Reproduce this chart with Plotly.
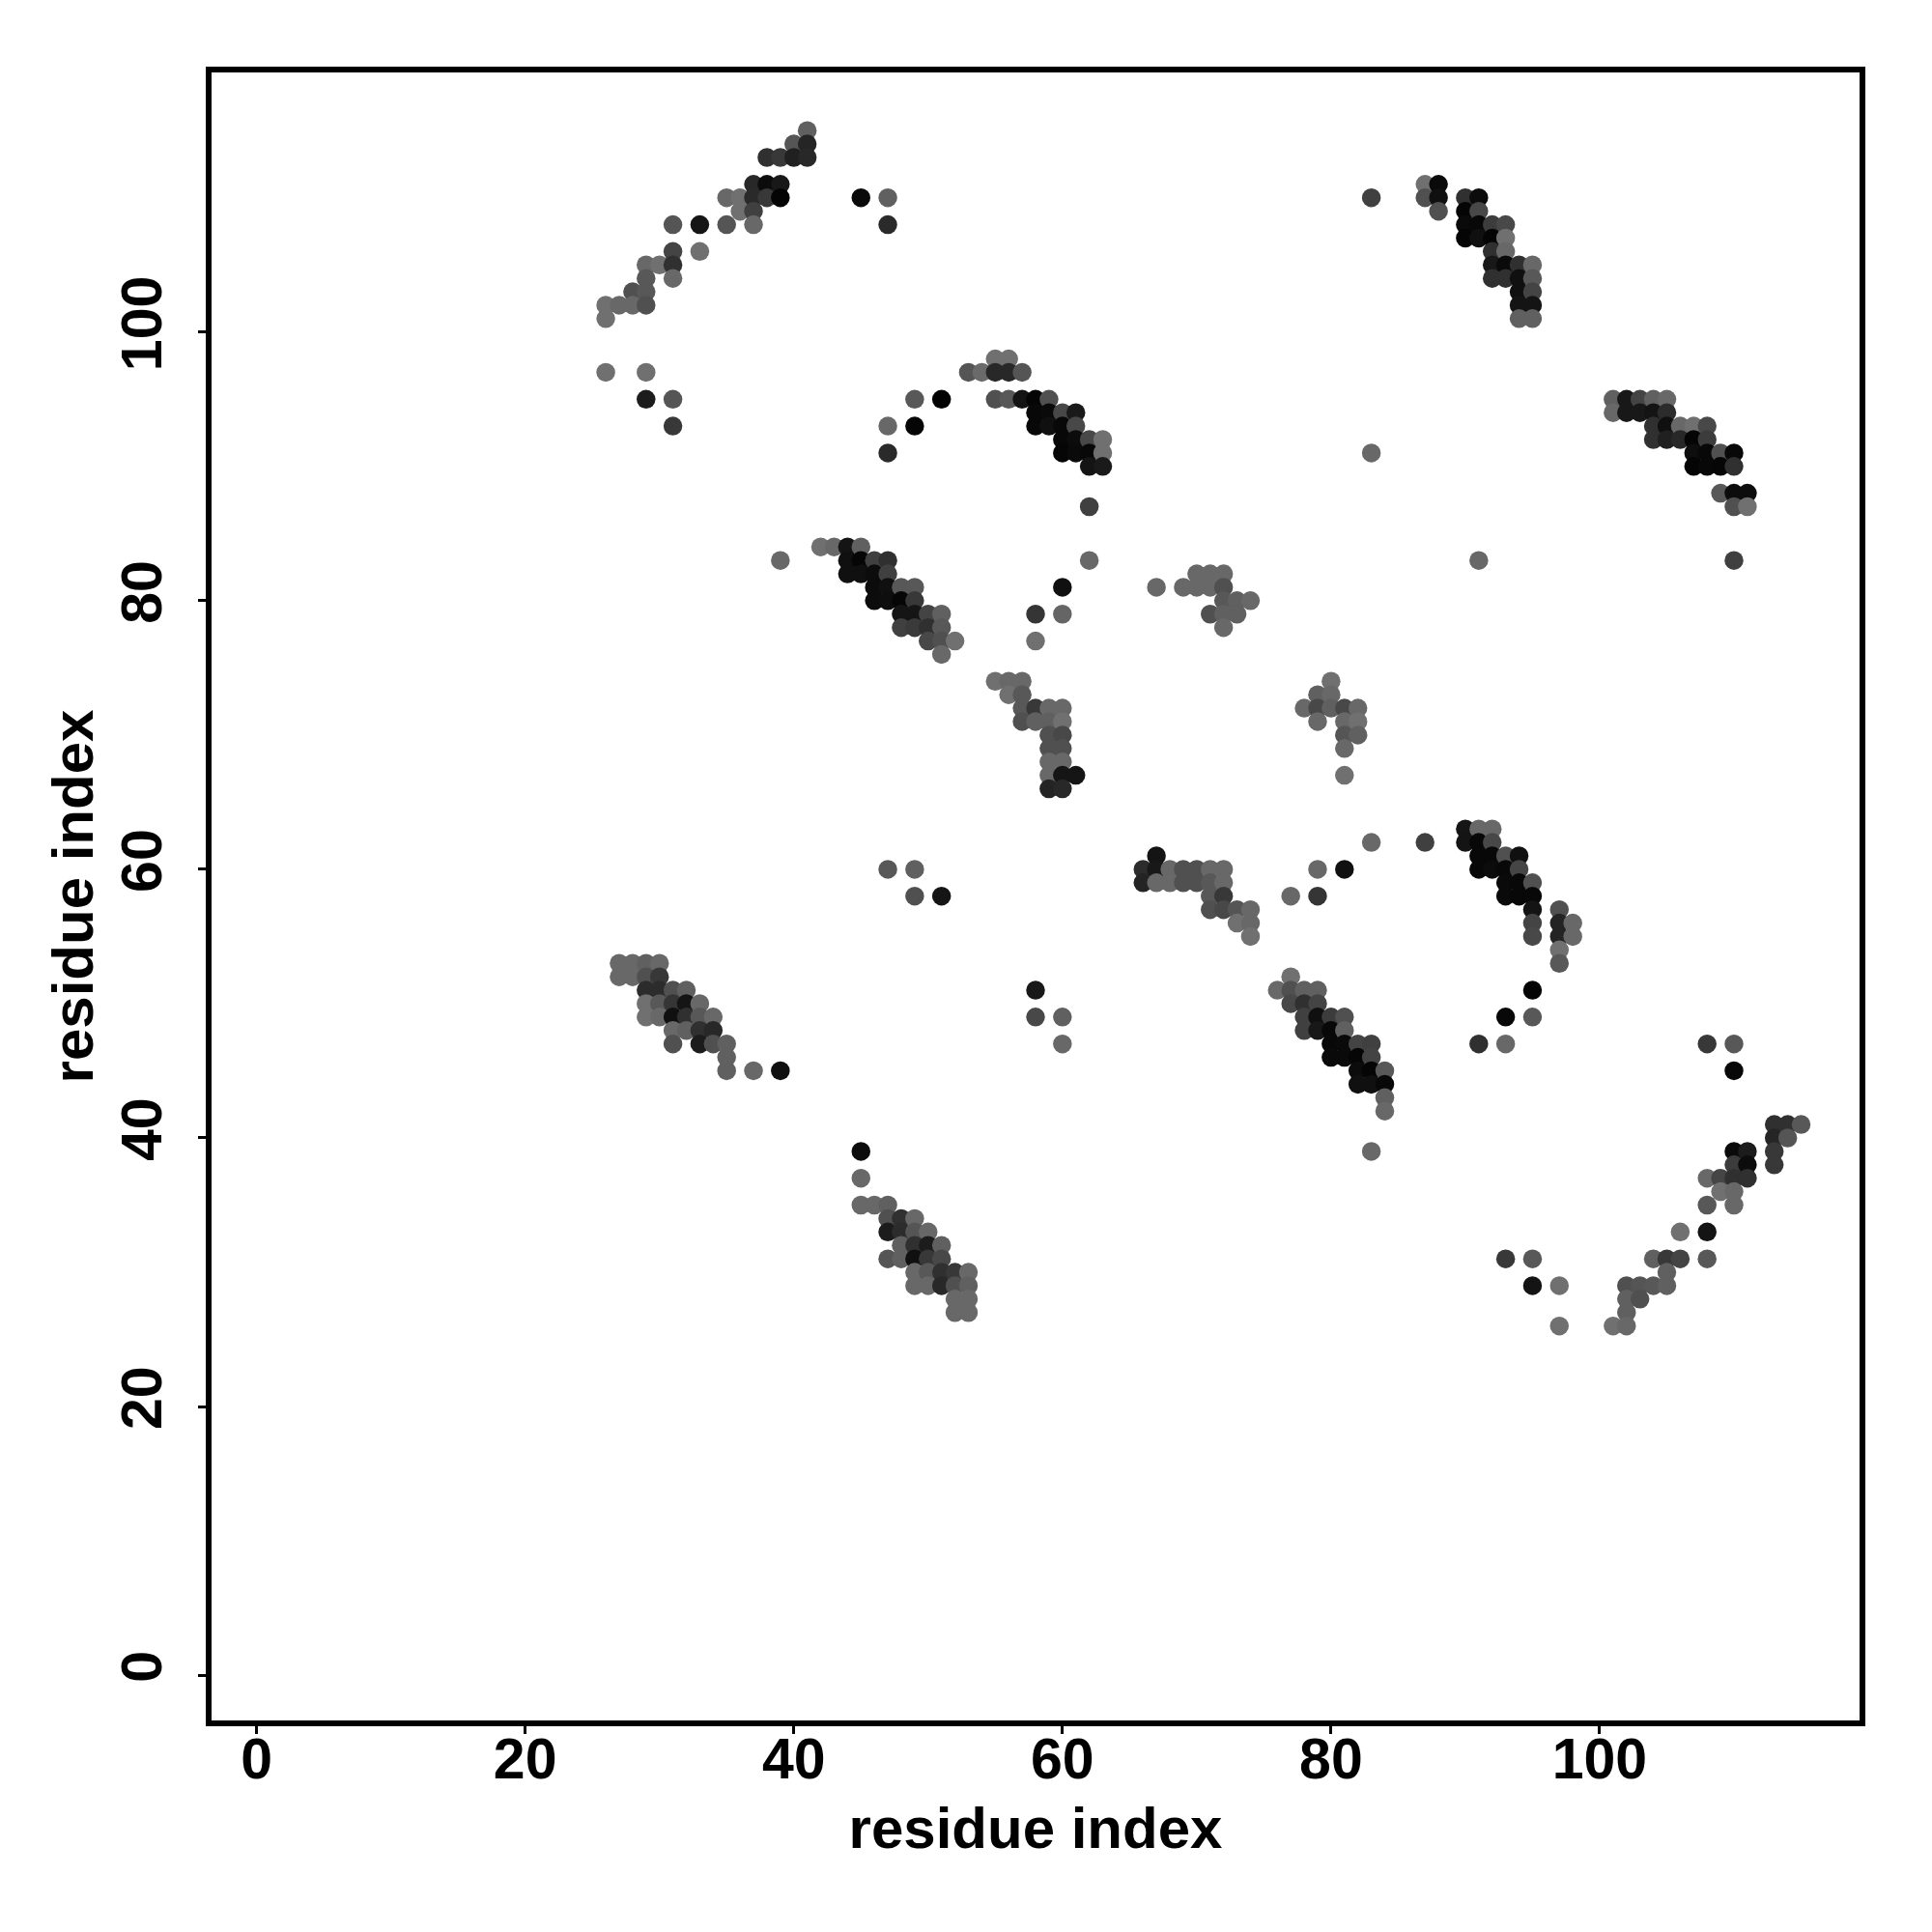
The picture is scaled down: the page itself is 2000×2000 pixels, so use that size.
import plotly.graph_objects as go

# (residue x, residue y, grey level 0-255)
arc_top_left = [
 (41,115,0x60),(40,114,0x55),(41,114,0x25),(38,113,0x30),(39,113,0x38),(40,113,0x20),(41,113,0x28),
 (37,111,0x28),(38,111,0x0c),(39,111,0x18),(35,110,0x68),(36,110,0x70),(37,110,0x2a),(38,110,0x38),(39,110,0x04),
 (36,109,0x70),(37,109,0x40),(31,108,0x55),(33,108,0x15),(35,108,0x55),(37,108,0x68),
 (31,106,0x44),(33,106,0x70),(29,105,0x68),(30,105,0x70),(31,105,0x30),(29,104,0x58),(31,104,0x68),
 (28,103,0x50),(29,103,0x58),(26,102,0x70),(27,102,0x68),(28,102,0x68),(29,102,0x50),(26,101,0x70),
 (26,97,0x70),(29,97,0x70),(29,95,0x1c),(31,95,0x55),(31,93,0x38),
 (45,110,0x0a),(47,110,0x60),(47,108,0x2a),
]
arc_mid = [
 (55,98,0x70),(56,98,0x70),(53,97,0x55),(54,97,0x6a),(55,97,0x28),(56,97,0x28),(57,97,0x55),
 (49,95,0x58),(51,95,0x02),(55,95,0x50),(56,95,0x58),(57,95,0x14),(58,95,0x05),(59,95,0x50),
 (58,94,0x08),(59,94,0x0a),(60,94,0x48),(61,94,0x1a),
 (47,93,0x68),(49,93,0x05),(58,93,0x08),(59,93,0x10),(60,93,0x08),(61,93,0x48),
 (60,92,0x08),(61,92,0x0c),(62,92,0x48),(63,92,0x70),
 (47,91,0x2a),(60,91,0x06),(61,91,0x0a),(62,91,0x08),(63,91,0x70),(62,90,0x14),(63,90,0x1a),
 (62,87,0x40),(62,83,0x68),
]
arc_top_right = [
 (87,111,0x70),(88,111,0x0a),(83,110,0x40),(87,110,0x50),(88,110,0x10),(90,110,0x30),(91,110,0x0c),
 (88,109,0x50),(90,109,0x05),(91,109,0x48),(90,108,0x0a),(91,108,0x08),(92,108,0x3c),(93,108,0x48),
 (90,107,0x05),(91,107,0x10),(92,107,0x05),(93,107,0x70),(92,106,0x30),(93,106,0x68),
 (92,105,0x18),(93,105,0x0a),(94,105,0x30),(95,105,0x68),(92,104,0x30),(93,104,0x30),(94,104,0x10),(95,104,0x58),
 (94,103,0x10),(95,103,0x44),(94,102,0x14),(95,102,0x14),(94,101,0x60),(95,101,0x60),
]
arc_right = [
 (101,95,0x60),(102,95,0x18),(103,95,0x44),(104,95,0x60),(105,95,0x68),
 (101,94,0x68),(102,94,0x18),(103,94,0x18),(104,94,0x14),(105,94,0x2c),
 (104,93,0x30),(105,93,0x10),(106,93,0x68),(107,93,0x70),(108,93,0x48),
 (104,92,0x30),(105,92,0x20),(106,92,0x28),(107,92,0x05),(108,92,0x3c),
 (107,91,0x0e),(108,91,0x08),(109,91,0x50),(110,91,0x08),
 (107,90,0x05),(108,90,0x08),(109,90,0x06),(110,90,0x30),
 (109,88,0x58),(110,88,0x0c),(111,88,0x0c),(110,87,0x50),(111,87,0x70),(110,83,0x40),
 (83,91,0x68),(91,83,0x68),
]
band_44_53 = [
 (39,83,0x68),(42,84,0x70),(43,84,0x68),(44,84,0x14),(45,84,0x60),(44,83,0x10),(45,83,0x06),(46,83,0x40),(47,83,0x30),
 (44,82,0x10),(45,82,0x10),(46,82,0x0c),(47,82,0x40),(46,81,0x0c),(47,81,0x10),(48,81,0x58),(49,81,0x58),
 (46,80,0x0c),(47,80,0x0e),(48,80,0x06),(49,80,0x38),(48,79,0x15),(49,79,0x15),(50,79,0x44),(51,79,0x60),
 (48,78,0x40),(49,78,0x3a),(50,78,0x30),(51,78,0x58),(50,77,0x48),(51,77,0x50),(52,77,0x70),(51,76,0x68),
 (60,81,0x10),(58,79,0x35),(60,79,0x65),(58,77,0x70),
]
band_55_61 = [
 (55,74,0x70),(56,74,0x68),(57,74,0x68),(56,73,0x70),(57,73,0x58),
 (57,72,0x58),(58,72,0x38),(59,72,0x68),(60,72,0x68),(57,71,0x50),(58,71,0x60),(59,71,0x60),(60,71,0x70),
 (59,70,0x50),(60,70,0x48),(59,69,0x50),(60,69,0x50),(59,68,0x68),(60,68,0x68),
 (59,67,0x68),(60,67,0x15),(61,67,0x15),(59,66,0x24),(60,66,0x28),
]
cluster_67_74 = [
 (67,81,0x68),(70,82,0x68),(71,82,0x68),(72,82,0x68),(69,81,0x68),(70,81,0x68),(71,81,0x68),(72,81,0x50),
 (72,80,0x58),(73,80,0x60),(74,80,0x68),(71,79,0x50),(72,79,0x60),(73,79,0x60),(72,78,0x68),
]
cluster_78_82 = [
 (80,74,0x70),(79,73,0x60),(80,73,0x68),(78,72,0x68),(79,72,0x48),(80,72,0x60),(81,72,0x48),(82,72,0x68),
 (79,71,0x68),(81,71,0x68),(82,71,0x70),(81,70,0x55),(82,70,0x60),(81,69,0x68),(81,67,0x70),
]
band_66_74 = [
 (83,62,0x68),(67,61,0x14),(66,60,0x2c),(67,60,0x18),(68,60,0x68),(69,60,0x50),(70,60,0x50),(71,60,0x68),(72,60,0x68),
 (79,60,0x68),(81,60,0x10),(66,59,0x24),(67,59,0x68),(68,59,0x68),(69,59,0x50),(70,59,0x50),(71,59,0x58),(72,59,0x68),
 (71,58,0x58),(72,58,0x38),(77,58,0x68),(79,58,0x35),(71,57,0x50),(72,57,0x48),(73,57,0x55),(74,57,0x68),
 (73,56,0x70),(74,56,0x68),(74,55,0x70),
]
band_87_98 = [
 (90,63,0x15),(91,63,0x68),(92,63,0x68),(87,62,0x40),(90,62,0x14),(91,62,0x08),(92,62,0x48),
 (91,61,0x08),(92,61,0x08),(93,61,0x50),(94,61,0x10),(91,60,0x08),(92,60,0x0c),(93,60,0x08),(94,60,0x45),
 (93,59,0x0a),(94,59,0x08),(95,59,0x50),(93,58,0x0a),(94,58,0x08),(95,58,0x08),
 (95,57,0x14),(97,57,0x50),(95,56,0x44),(97,56,0x24),(98,56,0x68),(95,55,0x48),(97,55,0x24),(98,55,0x68),
 (97,54,0x70),(97,53,0x58),(95,51,0x05),(93,49,0x08),(95,49,0x58),(91,47,0x30),(93,47,0x68),
]
band_76_84 = [
 (77,52,0x70),(76,51,0x68),(77,51,0x50),(78,51,0x60),(79,51,0x60),(77,50,0x48),(78,50,0x30),(79,50,0x44),
 (78,49,0x40),(79,49,0x10),(80,49,0x3c),(81,49,0x50),(78,48,0x40),(79,48,0x18),(80,48,0x08),(81,48,0x60),
 (80,47,0x08),(81,47,0x0a),(82,47,0x44),(83,47,0x40),(80,46,0x0a),(81,46,0x0a),(82,46,0x06),(83,46,0x44),
 (82,45,0x0c),(83,45,0x05),(84,45,0x58),(82,44,0x10),(83,44,0x10),(84,44,0x08),(84,43,0x60),(84,42,0x68),(83,39,0x68),
]
band_27_39 = [
 (27,53,0x68),(28,53,0x68),(29,53,0x60),(30,53,0x68),(27,52,0x68),(28,52,0x68),(29,52,0x50),(30,52,0x38),
 (29,51,0x2c),(30,51,0x2c),(31,51,0x50),(32,51,0x60),(29,50,0x70),(30,50,0x58),(31,50,0x35),(32,50,0x15),(33,50,0x68),
 (29,49,0x70),(30,49,0x68),(31,49,0x10),(32,49,0x30),(33,49,0x58),(34,49,0x68),
 (31,48,0x68),(32,48,0x60),(33,48,0x30),(34,48,0x28),(31,47,0x50),(33,47,0x1c),(34,47,0x50),(35,47,0x60),
 (35,46,0x60),(35,45,0x60),(37,45,0x68),(39,45,0x10),
]
band_45_53 = [
 (45,39,0x0c),(45,37,0x68),(45,35,0x68),(46,35,0x68),(47,35,0x60),(47,34,0x50),(48,34,0x30),(49,34,0x68),
 (47,33,0x1c),(48,33,0x2c),(49,33,0x55),(50,33,0x68),(48,32,0x60),(49,32,0x30),(50,32,0x1c),(51,32,0x60),
 (47,31,0x55),(48,31,0x60),(49,31,0x10),(50,31,0x38),(51,31,0x48),
 (49,30,0x68),(50,30,0x58),(51,30,0x30),(52,30,0x38),(53,30,0x68),
 (49,29,0x68),(50,29,0x68),(51,29,0x28),(52,29,0x50),(53,29,0x60),(52,28,0x68),(53,28,0x68),(52,27,0x68),(53,27,0x68),
]
arc_bottom_right = [
 (113,41,0x30),(114,41,0x30),(115,41,0x58),(113,40,0x25),(114,40,0x55),(110,39,0x0a),(111,39,0x1c),(113,39,0x38),
 (110,38,0x3c),(111,38,0x0c),(113,38,0x38),(108,37,0x68),(109,37,0x45),(110,37,0x30),(111,37,0x30),
 (109,36,0x70),(110,36,0x68),(108,35,0x58),(110,35,0x68),(106,33,0x70),(108,33,0x14),
 (93,31,0x38),(95,31,0x58),(104,31,0x60),(105,31,0x38),(106,31,0x44),(108,31,0x58),(105,30,0x60),
 (95,29,0x14),(97,29,0x70),(102,29,0x50),(103,29,0x55),(104,29,0x58),(105,29,0x60),
 (102,28,0x60),(103,28,0x50),(102,27,0x60),(97,26,0x70),(101,26,0x70),(102,26,0x68),
]
isolated = [
 (47,60,0x58),(49,60,0x60),(49,58,0x50),(51,58,0x15),(58,51,0x18),(58,49,0x48),(60,49,0x60),(60,47,0x68),
 (108,47,0x38),(110,47,0x58),(110,45,0x08),
]
x_ticks = [0, 20, 40, 60, 80, 100]
y_ticks = [0, 20, 40, 60, 80, 100]
axis_label = "residue index"

points = (arc_top_left + arc_mid + arc_top_right + arc_right + band_44_53 + band_55_61 + cluster_67_74
          + cluster_78_82 + band_66_74 + band_87_98 + band_76_84 + band_27_39 + band_45_53
          + arc_bottom_right + isolated)
points = sorted(points, key=lambda p: (p[0], -p[1]))
xs = [p[0] for p in points]
ys = [p[1] for p in points]
gs = [p[2] for p in points]

FONT = "Liberation Sans"
fig = go.Figure(go.Scatter(
    x=xs, y=ys, mode="markers",
    marker=dict(size=19.5, color=gs, cmin=0, cmax=255,
                colorscale=[[0, "rgb(0,0,0)"], [1, "rgb(255,255,255)"]],
                showscale=False, line=dict(width=0)),
    hoverinfo="skip",
))
axis_common = dict(
    tickmode="array", showgrid=False, zeroline=False, showline=True, mirror=True,
    linecolor="black", linewidth=5.5, ticks="outside", ticklen=8, tickwidth=3, tickcolor="black",
    tickfont=dict(family=FONT, size=59, color="black", weight="bold"),
)
title_font = dict(family=FONT, size=60, color="black", weight="bold")
fig.update_layout(
    width=2000, height=2000, autosize=False,
    margin=dict(l=211, r=83, t=67, b=227, pad=0),
    paper_bgcolor="white", plot_bgcolor="white", showlegend=False,
    xaxis=dict(range=[-3.35, 119.35], tickvals=x_ticks, ticklabelstandoff=-25,
               title=dict(text=axis_label, font=title_font, standoff=20), **axis_common),
    yaxis=dict(range=[-3.37, 119.33], tickvals=y_ticks, tickangle=-90, ticklabelstandoff=15,
               title=dict(text=axis_label, font=title_font, standoff=0), **axis_common),
)
fig.write_html("out.html")
